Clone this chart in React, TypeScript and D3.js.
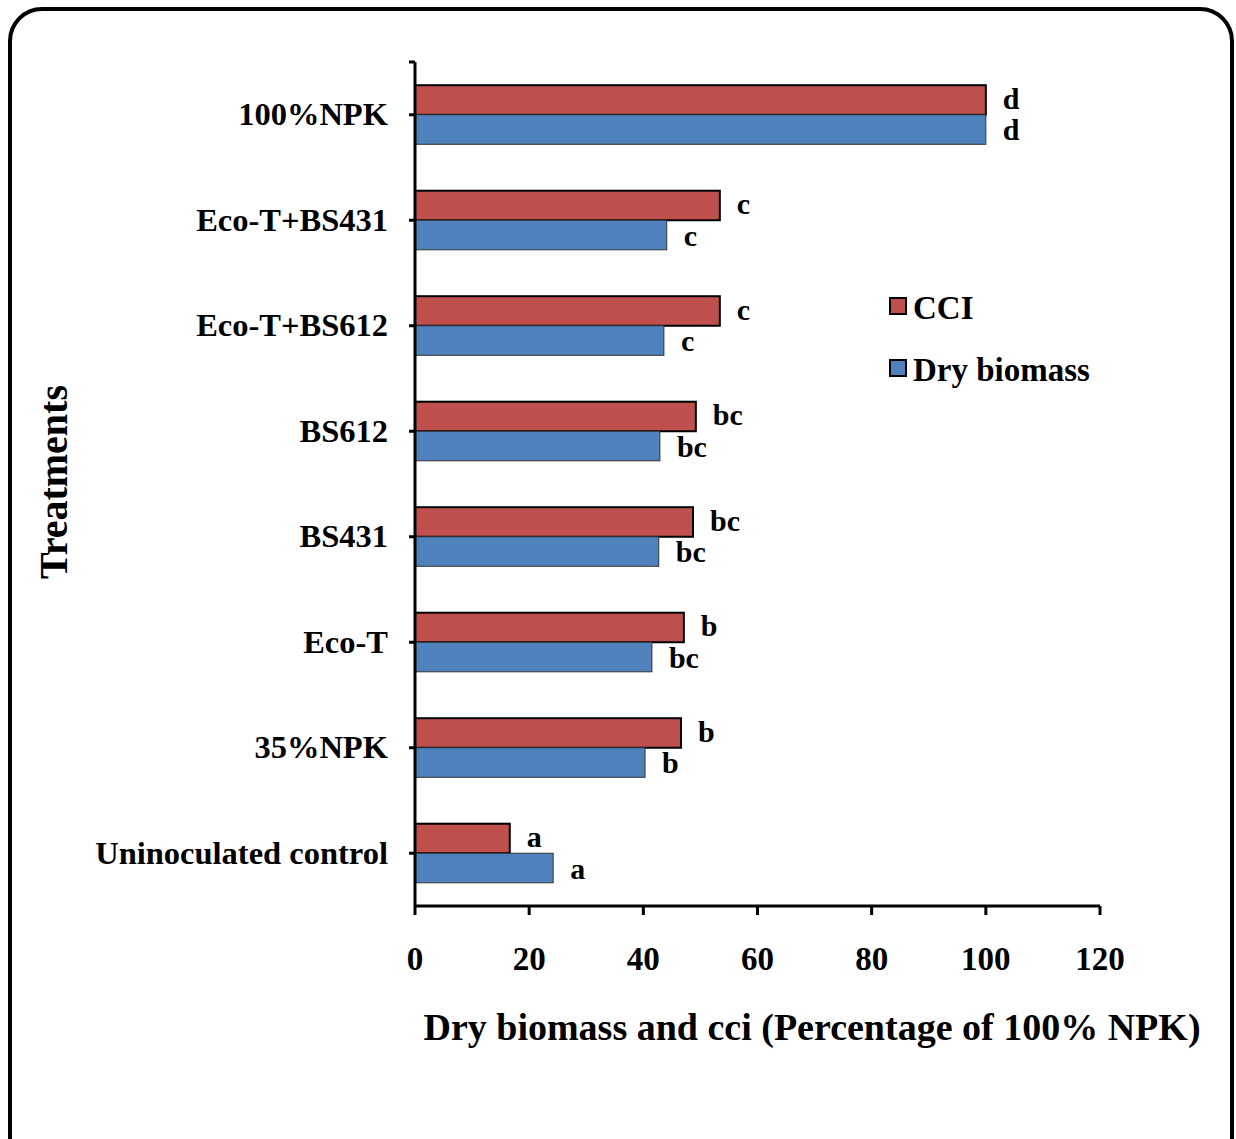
import React from "react";
import * as d3 from "d3";

const treatments = [
  "100%NPK",
  "Eco-T+BS431",
  "Eco-T+BS612",
  "BS612",
  "BS431",
  "Eco-T",
  "35%NPK",
  "Uninoculated control",
];
const cciValues = [100, 53.4, 53.4, 49.2, 48.7, 47.1, 46.6, 16.6];
const biomassValues = [100, 44.1, 43.6, 42.9, 42.7, 41.5, 40.3, 24.2];
const cciLetters = ["d", "c", "c", "bc", "bc", "b", "b", "a"];
const biomassLetters = ["d", "c", "c", "bc", "bc", "bc", "b", "a"];
const xTicks = [0, 20, 40, 60, 80, 100, 120];

const RED = "#C0504D";
const BLUE = "#4F81BD";
const FONT = "'Liberation Serif', 'Times New Roman', serif";

export default function App() {
  const W = 1236;
  const H = 1139;
  const left = 415;
  const right = 1100;
  const top = 62;
  const bottom = 906;

  const x = d3.scaleLinear().domain([0, 120]).range([left, right]);
  const y = d3.scaleBand<string>().domain(treatments).range([top, bottom]);
  const band = y.bandwidth();
  const barH = band * 0.28;

  return (
    <svg
      width={W}
      height={H}
      style={{ position: "absolute", left: 0, top: 0, background: "#fff" }}
      fontFamily={FONT}
      fontWeight="bold"
    >
      <rect x={10} y={9} width={1222} height={1160} rx={32} ry={32} fill="#fff" stroke="#000" strokeWidth={4} />

      {/* bars with significance letters */}
      {treatments.map((t, i) => {
        const cy = (y(t) as number) + band / 2;
        return (
          <g key={t}>
            <rect
              x={x(0)}
              y={cy - barH}
              width={x(cciValues[i]) - x(0)}
              height={barH}
              fill={RED}
              stroke="#000"
              strokeWidth={2}
            />
            <rect
              x={x(0)}
              y={cy}
              width={x(biomassValues[i]) - x(0)}
              height={barH}
              fill={BLUE}
              stroke="#333"
              strokeWidth={1}
            />
            <text
              x={x(cciValues[i]) + 17}
              y={cy - barH / 2 - 1}
              dy="0.32em"
              fontSize={30}
              fill="#000"
            >
              {cciLetters[i]}
            </text>
            <text
              x={x(biomassValues[i]) + 17}
              y={cy + barH / 2 + 1}
              dy="0.32em"
              fontSize={30}
              fill="#000"
            >
              {biomassLetters[i]}
            </text>
            <text x={388} y={cy} dy="0.32em" textAnchor="end" fontSize={32.5} fill="#000">
              {t}
            </text>
            <line x1={left - 6} x2={left} y1={cy} y2={cy} stroke="#000" strokeWidth={3} />
          </g>
        );
      })}

      {/* y axis */}
      <line x1={left} x2={left} y1={top} y2={bottom} stroke="#000" strokeWidth={3} />
      <line x1={left - 6} x2={left} y1={top} y2={top} stroke="#000" strokeWidth={3} />

      {/* x axis */}
      <line x1={left} x2={right} y1={bottom} y2={bottom} stroke="#000" strokeWidth={3} />
      {xTicks.map((v) => (
        <g key={v}>
          <line x1={x(v)} x2={x(v)} y1={bottom} y2={bottom + 9} stroke="#000" strokeWidth={3} />
          <text x={x(v)} y={958} dy="0.35em" textAnchor="middle" fontSize={33} fill="#000">
            {v}
          </text>
        </g>
      ))}

      <text x={812} y={1027} dy="0.35em" textAnchor="middle" fontSize={38} fill="#000">
        Dry biomass and cci (Percentage of 100% NPK)
      </text>
      <text
        transform="translate(53,482) rotate(-90)"
        dy="0.35em"
        textAnchor="middle"
        fontSize={40}
        fill="#000"
      >
        Treatments
      </text>

      {/* legend */}
      <rect x={890} y={298} width={16} height={16} fill={RED} stroke="#000" strokeWidth={2} />
      <text x={913} y={307} dy="0.35em" fontSize={33} fill="#000">
        CCI
      </text>
      <rect x={890} y={360} width={16} height={16} fill={BLUE} stroke="#000" strokeWidth={2} />
      <text x={913} y={369} dy="0.35em" fontSize={33} fill="#000">
        Dry biomass
      </text>
    </svg>
  );
}
